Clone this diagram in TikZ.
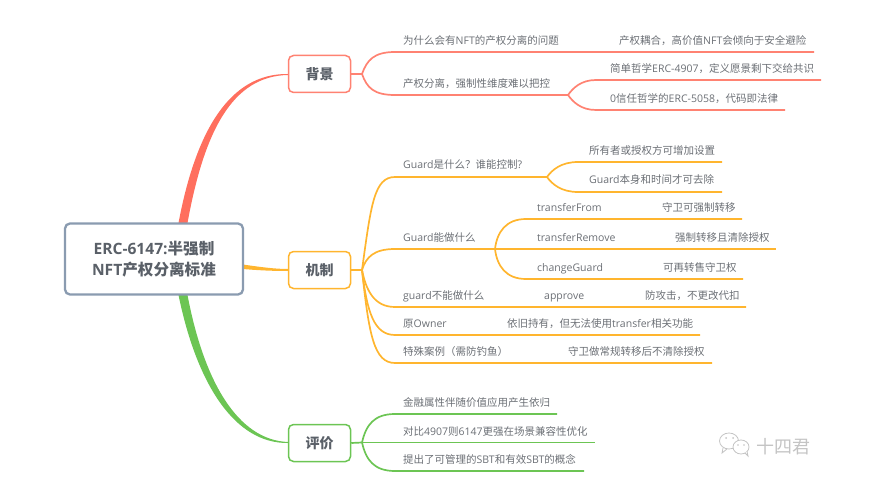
\documentclass[tikz,border=0pt]{standalone}
\usepackage{fontspec}
\setmainfont{Noto Sans CJK SC}
\newfontfamily\latf{Open Sans}
\newcommand{\lat}[1]{{\latf #1}}
\usetikzlibrary{backgrounds}
\definecolor{redA}{HTML}{FF6F5E}
\definecolor{redB}{HTML}{FF8272}
\definecolor{oraA}{HTML}{FFB52E}
\definecolor{greA}{HTML}{6CC554}
\definecolor{slateA}{HTML}{8A9BB0}
\definecolor{txtA}{HTML}{6B6F75}
\definecolor{txtB}{HTML}{5A6068}
\definecolor{markA}{HTML}{C4C4C4}
\tikzset{
  x=1pt,y=-1pt,
  leaf/.style={anchor=west,inner sep=0pt,text height=8.5pt,text depth=2pt,text=txtA,font=\fontsize{10.5}{12}\selectfont},
  branchbox/.style={draw=#1,line width=1.5pt,rounded corners=5pt,fill=white,minimum width=62pt,minimum height=37pt,inner sep=0pt,text=txtB,font=\fontsize{14}{16}\selectfont\bfseries},
  rootbox/.style={draw=slateA,line width=2.3pt,rounded corners=5pt,fill=white,minimum width=178pt,minimum height=71pt,inner sep=0pt,align=center,text=txtB,font=\fontsize{15.6}{21}\selectfont\bfseries},
  lineR/.style={draw=redB,line width=1.7pt},
  lineO/.style={draw=oraA,line width=1.7pt},
  lineG/.style={draw=greA,line width=1.7pt},
}
\begin{document}
\begin{tikzpicture}
\useasboundingbox (0,0) rectangle (886,489);
\node[rootbox] (root) at (154,259) {\lat{ERC-6147:}半强制\\\lat{NFT}产权分离标准};
\node[branchbox=redB] (bg) at (319.5,74) {背景};
\node[branchbox=oraA] (mech) at (319.5,270) {机制};
\node[branchbox=greA] (eval) at (319.5,443) {评价};

% texts
\node[leaf] (t1) at (403,41) {为什么会有\lat{NFT}的产权分离的问题};
\node[leaf] (t1a) at (619,41) {产权耦合，高价值\lat{NFT}会倾向于安全避险};
\node[leaf] (t2) at (403,84) {产权分离，强制性维度难以把控};
\node[leaf] (t2a) at (610,69) {简单哲学\lat{ERC-4907}，定义愿景剩下交给共识};
\node[leaf] (t2b) at (610,99) {\lat{0}信任哲学的\lat{ERC-5058}，代码即法律};

\node[leaf] (m1) at (403,165) {\lat{Guard}是什么？谁能控制\lat{?}};
\node[leaf] (m1a) at (589,151) {所有者或授权方可增加设置};
\node[leaf] (m1b) at (589,180) {\lat{Guard}本身和时间才可去除};
\node[leaf] (m2) at (403,238) {\lat{Guard}能做什么};
\node[leaf] (m2a) at (537,208) {\lat{transferFrom}};
\node[leaf] (m2ax) at (662,208) {守卫可强制转移};
\node[leaf] (m2b) at (537,238) {\lat{transferRemove}};
\node[leaf] (m2bx) at (675,238) {强制转移且清除授权};
\node[leaf] (m2c) at (537,268) {\lat{changeGuard}};
\node[leaf] (m2cx) at (663,268) {可再转售守卫权};
\node[leaf] (m3) at (403,296) {\lat{guard}不能做什么};
\node[leaf] (m3a) at (544,296) {\lat{approve}};
\node[leaf] (m3ax) at (645,296) {防攻击，不更改代扣};
\node[leaf] (m4) at (403,324) {原\lat{Owner}};
\node[leaf] (m4a) at (507,324) {依旧持有，但无法使用\lat{transfer}相关功能};
\node[leaf] (m5) at (403,352) {特殊案例（需防钓鱼）};
\node[leaf] (m5a) at (568,352) {守卫做常规转移后不清除授权};

\node[leaf] (e1) at (403,403) {金融属性伴随价值应用产生依归};
\node[leaf] (e2) at (403,432) {对比\lat{4907}则\lat{6147}更强在场景兼容性优化};
\node[leaf] (e3) at (403,460) {提出了可管理的\lat{SBT}和有效\lat{SBT}的概念};

% named joints and free ends
\coordinate (bf) at (362,74);
\coordinate (b1s) at (395,52);  \coordinate (b1e) at (814,52);
\coordinate (b2s) at (395,95);  \coordinate (b2f) at (568,95);
\coordinate (b2as) at (596,80); \coordinate (b2ae) at (821,80);
\coordinate (b2bs) at (596,110);\coordinate (b2be) at (785,110);
\coordinate (mf) at (362,270);
\coordinate (a1s) at (395,177); \coordinate (a1f) at (547,177);
\coordinate (a1as) at (578,162);\coordinate (a1ae) at (722,162);
\coordinate (a1bs) at (578,192);\coordinate (a1be) at (722,192);
\coordinate (a2s) at (395,249); \coordinate (a2f) at (495,249);
\coordinate (a2as) at (526,219);\coordinate (a2ae) at (742,219);
\coordinate (a2be) at (776,249);
\coordinate (a2cs) at (526,279);\coordinate (a2ce) at (743,279);
\coordinate (a3s) at (395,307); \coordinate (a3e) at (746,307);
\coordinate (a4s) at (395,335); \coordinate (a4e) at (700,335);
\coordinate (a5s) at (395,363); \coordinate (a5e) at (712,363);
\coordinate (ef) at (362,442.5);
\coordinate (e1s) at (395,414); \coordinate (e1e) at (557,414);
\coordinate (e2e) at (595,442.5);
\coordinate (e3s) at (395,471); \coordinate (e3e) at (584,471);
\coordinate (rR) at (183,223);
\coordinate (rG) at (183,295);

\begin{scope}[on background layer]
  % thick tapered main branches
  \fill[redA] ([xshift=-4.5pt]rR) .. controls (196,130) and (230,73.4) .. (bg.west)
     -- (288,75) .. controls (232,76) and (204,132) .. ([xshift=4.5pt]rR) -- cycle;
  \fill[greA] ([xshift=-4.5pt]rG) .. controls (197,385) and (235,443.5) .. (eval.west)
     -- (288,442) .. controls (238,440) and (204,382) .. ([xshift=4.5pt]rG) -- cycle;
  \fill[oraA] (243,264.5) .. controls (260,267) and (275,269) .. (288,269)
     -- (288,271) .. controls (275,271) and (260,270.5) .. (243,269) -- cycle;

  % red
  \draw[lineR] (bg.east) -- (bf);
  \draw[lineR] (bf) .. controls (367,60) and (374,52) .. (b1s) -- (b1e);
  \draw[lineR] (bf) .. controls (367,88) and (374,95) .. (b2s) -- (b2f);
  \draw[lineR] (b2f) .. controls (573,88) and (581,80) .. (b2as) -- (b2ae);
  \draw[lineR] (b2f) .. controls (573,102) and (581,110) .. (b2bs) -- (b2be);
  % orange
  \draw[lineO] (mech.east) -- (mf);
  \draw[lineO] (mf) .. controls (371,205) and (374,177) .. (a1s) -- (a1f);
  \draw[lineO] (a1f) .. controls (552,170) and (561,162) .. (a1as) -- (a1ae);
  \draw[lineO] (a1f) .. controls (552,184) and (561,192) .. (a1bs) -- (a1be);
  \draw[lineO] (mf) .. controls (366,257) and (374,249) .. (a2s) -- (a2f);
  \draw[lineO] (a2f) .. controls (497,232) and (506,219) .. (a2as) -- (a2ae);
  \draw[lineO] (a2f) -- (a2be);
  \draw[lineO] (a2f) .. controls (497,266) and (506,279) .. (a2cs) -- (a2ce);
  \draw[lineO] (mf) .. controls (366,290) and (374,307) .. (a3s) -- (a3e);
  \draw[lineO] (mf) .. controls (367,312) and (374,335) .. (a4s) -- (a4e);
  \draw[lineO] (mf) .. controls (369,335) and (374,363) .. (a5s) -- (a5e);
  % green
  \draw[lineG] (eval.east) -- (ef);
  \draw[lineG] (ef) .. controls (366,425) and (374,414) .. (e1s) -- (e1e);
  \draw[lineG] (ef) -- (e2e);
  \draw[lineG] (ef) .. controls (366,460) and (374,471) .. (e3s) -- (e3e);
\end{scope}

% watermark
\draw[markA,line width=0.8pt] (729,441) ellipse (9.5 and 8);
\draw[markA,line width=0.8pt] (723,448) -- (722,453) -- (727,449);
\fill[markA] (726,438) circle (1) (733,438) circle (1);
\draw[markA,line width=0.8pt,fill=white] (741,447) ellipse (8 and 7);
\draw[markA,line width=0.8pt,fill=white] (745,453) -- (748,456) -- (747,451.5);
\fill[markA] (738,445) circle (0.9) (744,445) circle (0.9);
\node[inner sep=0pt,text=markA,font=\fontsize{18}{20}\selectfont] (mark) at (783,447) {十四君};
\end{tikzpicture}
\end{document}
